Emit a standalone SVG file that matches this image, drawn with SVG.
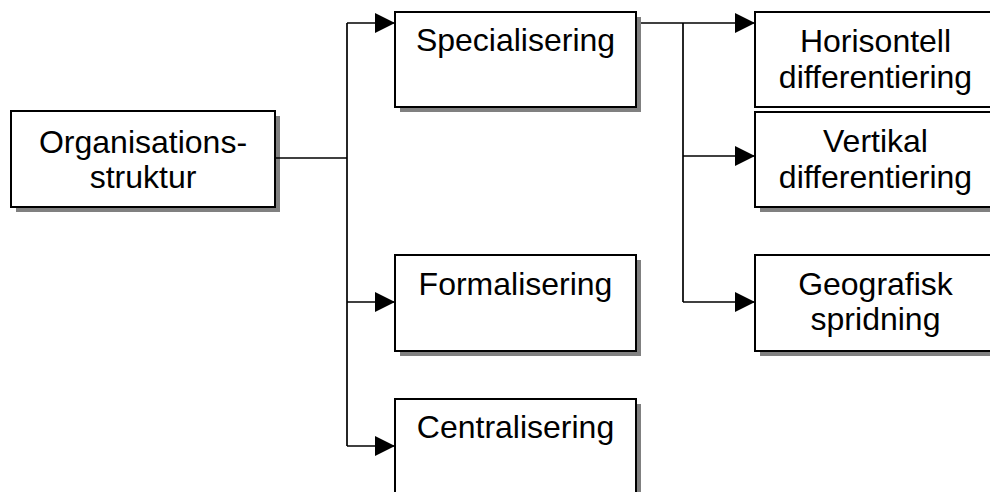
<svg xmlns="http://www.w3.org/2000/svg" width="990" height="492" viewBox="0 0 990 492">
<style>
.box{fill:#fff;stroke:#000;stroke-width:2}
.sh{fill:#808080}
.lbl{font-family:"Liberation Sans",Arial,sans-serif;font-size:32px;fill:#000;text-anchor:middle}
.ln{fill:none;stroke:#000;stroke-width:1.7}
</style>
<defs>
<marker id="arr" viewBox="0 0 20 20" refX="20" refY="10" markerWidth="20" markerHeight="20" markerUnits="userSpaceOnUse" orient="auto">
<path d="M0,0 L20,10 L0,20 z" fill="#000"/>
</marker>
</defs>
<rect width="990" height="492" fill="#fff"/>
<g id="organisasjonsstruktur">
<rect class="sh" x="16" y="116" width="264" height="96"/>
<rect class="box" x="11" y="111" width="264" height="96"/>
<text class="lbl" x="143" y="153">Organisations-</text>
<text class="lbl" x="143" y="188">struktur</text>
</g>
<g id="specialisering">
<rect class="sh" x="400" y="17" width="241" height="95"/>
<rect class="box" x="395" y="12" width="241" height="95"/>
<text class="lbl" x="515.5" y="51">Specialisering</text>
</g>
<g id="formalisering">
<rect class="sh" x="400" y="260" width="241" height="96"/>
<rect class="box" x="395" y="255" width="241" height="96"/>
<text class="lbl" x="515.5" y="295">Formalisering</text>
</g>
<g id="centralisering">
<rect class="sh" x="400" y="404" width="241" height="96"/>
<rect class="box" x="395" y="399" width="241" height="96"/>
<text class="lbl" x="515.5" y="438">Centralisering</text>
</g>
<g id="horisontell">
<rect class="box" x="755" y="12" width="241" height="95"/>
<text class="lbl" x="875.5" y="52">Horisontell</text>
<text class="lbl" x="875.5" y="88">differentiering</text>
</g>
<g id="vertikal">
<rect class="sh" x="760" y="117" width="241" height="95"/>
<rect class="box" x="755" y="112" width="241" height="95"/>
<text class="lbl" x="875.5" y="152">Vertikal</text>
<text class="lbl" x="875.5" y="188">differentiering</text>
</g>
<g id="geografisk">
<rect class="sh" x="760" y="260" width="241" height="96"/>
<rect class="box" x="755" y="255" width="241" height="96"/>
<text class="lbl" x="875.5" y="295">Geografisk</text>
<text class="lbl" x="875.5" y="330">spridning</text>
</g>
<g id="connectors">
<path class="ln" d="M276,158 H347"/>
<path class="ln" d="M347,23 V446"/>
<path class="ln" d="M347,23 H395" marker-end="url(#arr)"/>
<path class="ln" d="M347,302 H395" marker-end="url(#arr)"/>
<path class="ln" d="M347,446 H395" marker-end="url(#arr)"/>
<path class="ln" d="M641,23 H755" marker-end="url(#arr)"/>
<path class="ln" d="M683,23 V302"/>
<path class="ln" d="M683,156 H755" marker-end="url(#arr)"/>
<path class="ln" d="M683,302 H755" marker-end="url(#arr)"/>
</g>
</svg>
